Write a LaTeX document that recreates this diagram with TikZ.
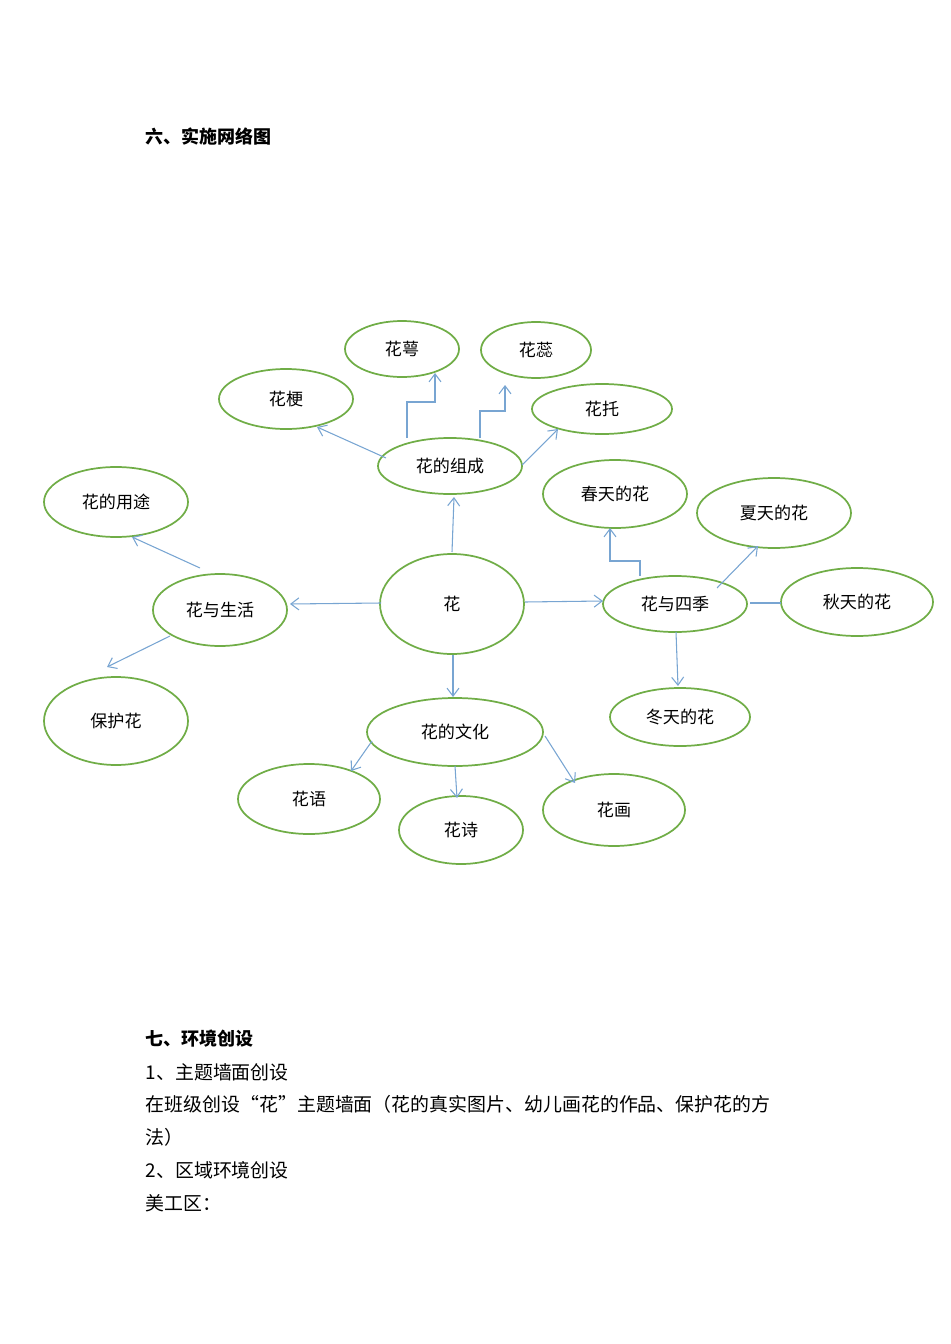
\documentclass[tikz,border=0pt]{standalone}
\usepackage{fontspec}
\setmainfont{Noto Sans CJK SC}
\usetikzlibrary{arrows.meta}
\begin{document}
\begin{tikzpicture}[x=0.75pt,y=-0.75pt,
 con/.style={draw={rgb,255:red,120;green,165;blue,210},line width=0.8pt,-{Straight Barb[length=6pt,width=9pt]}},
 ln/.style={draw={rgb,255:red,120;green,165;blue,210},line width=0.8pt},
 lbl/.style={font=\fontsize{12.8}{14}\selectfont},
 body/.style={anchor=west,font=\fontsize{14.2}{16}\selectfont}]
\useasboundingbox (0,0) rectangle (950,1344);
\newcommand{\flel}[5]{\draw[line width=1.3pt,draw={rgb,255:red,112;green,173;blue,71}] (#1,#2) ellipse [x radius=#3,y radius=#4];
 \node[lbl] at (#1,#2) {#5};}
\node[body,font=\fontsize{13.5}{16}\selectfont\bfseries] (t1) at (141,137) {六、实施网络图};
\flel{402}{349}{57}{28}{花萼}
\flel{536}{350}{55}{28}{花蕊}
\flel{286}{399}{67}{30}{花梗}
\flel{602}{409}{70}{25}{花托}
\flel{450}{466}{72}{28}{花的组成}
\flel{615}{494}{72}{34}{春天的花}
\flel{774}{513}{77}{35}{夏天的花}
\flel{116}{502}{72}{35}{花的用途}
\flel{220}{610}{67}{36}{花与生活}
\flel{452}{604}{72}{50}{花}
\flel{675}{604}{72}{28}{花与四季}
\flel{857}{602}{76}{34}{秋天的花}
\flel{116}{721}{72}{44}{保护花}
\flel{680}{717}{70}{29}{冬天的花}
\flel{455}{732}{88}{34}{花的文化}
\flel{309}{799}{71}{35}{花语}
\flel{461}{830}{62}{34}{花诗}
\flel{614}{810}{71}{36}{花画}
\draw[con] (452,552) -- (454,497);
\draw[con] (381,603) -- (290,604);
\draw[con] (525,602) -- (603,601);
\draw[con] (453,655) -- (453,697);
\draw[con] (386,458) -- (317,427);
\draw[con] (407,438) -- (407,402) -- (435,402) -- (435,373);
\draw[con] (480,438) -- (480,411) -- (505,411) -- (505,385);
\draw[con] (522,465) -- (558,429);
\draw[con] (200,568) -- (132,537);
\draw[con] (170,636) -- (107,667);
\draw[con] (640,576) -- (640,561) -- (610,561) -- (610,528);
\draw[con] (717,588) -- (758,546);
\draw[ln] (750,603) -- (781,603);
\draw[con] (676,632) -- (678,686);
\draw[con] (372,741) -- (351,771);
\draw[con] (455,766) -- (457,798);
\draw[con] (545,736) -- (575,783);
\node[body,font=\fontsize{13.5}{16}\selectfont\bfseries] (t2) at (141,1039) {七、环境创设};
\node[body] (t3) at (141,1072) {1、主题墙面创设};
\node[body] (t4) at (141,1104) {在班级创设“花”主题墙面（花的真实图片、幼儿画花的作品、保护花的方};
\node[body] (t5) at (141,1137) {法）};
\node[body] (t6) at (141,1170) {2、区域环境创设};
\node[body] (t7) at (141,1203) {美工区：};
\end{tikzpicture}
\end{document}
